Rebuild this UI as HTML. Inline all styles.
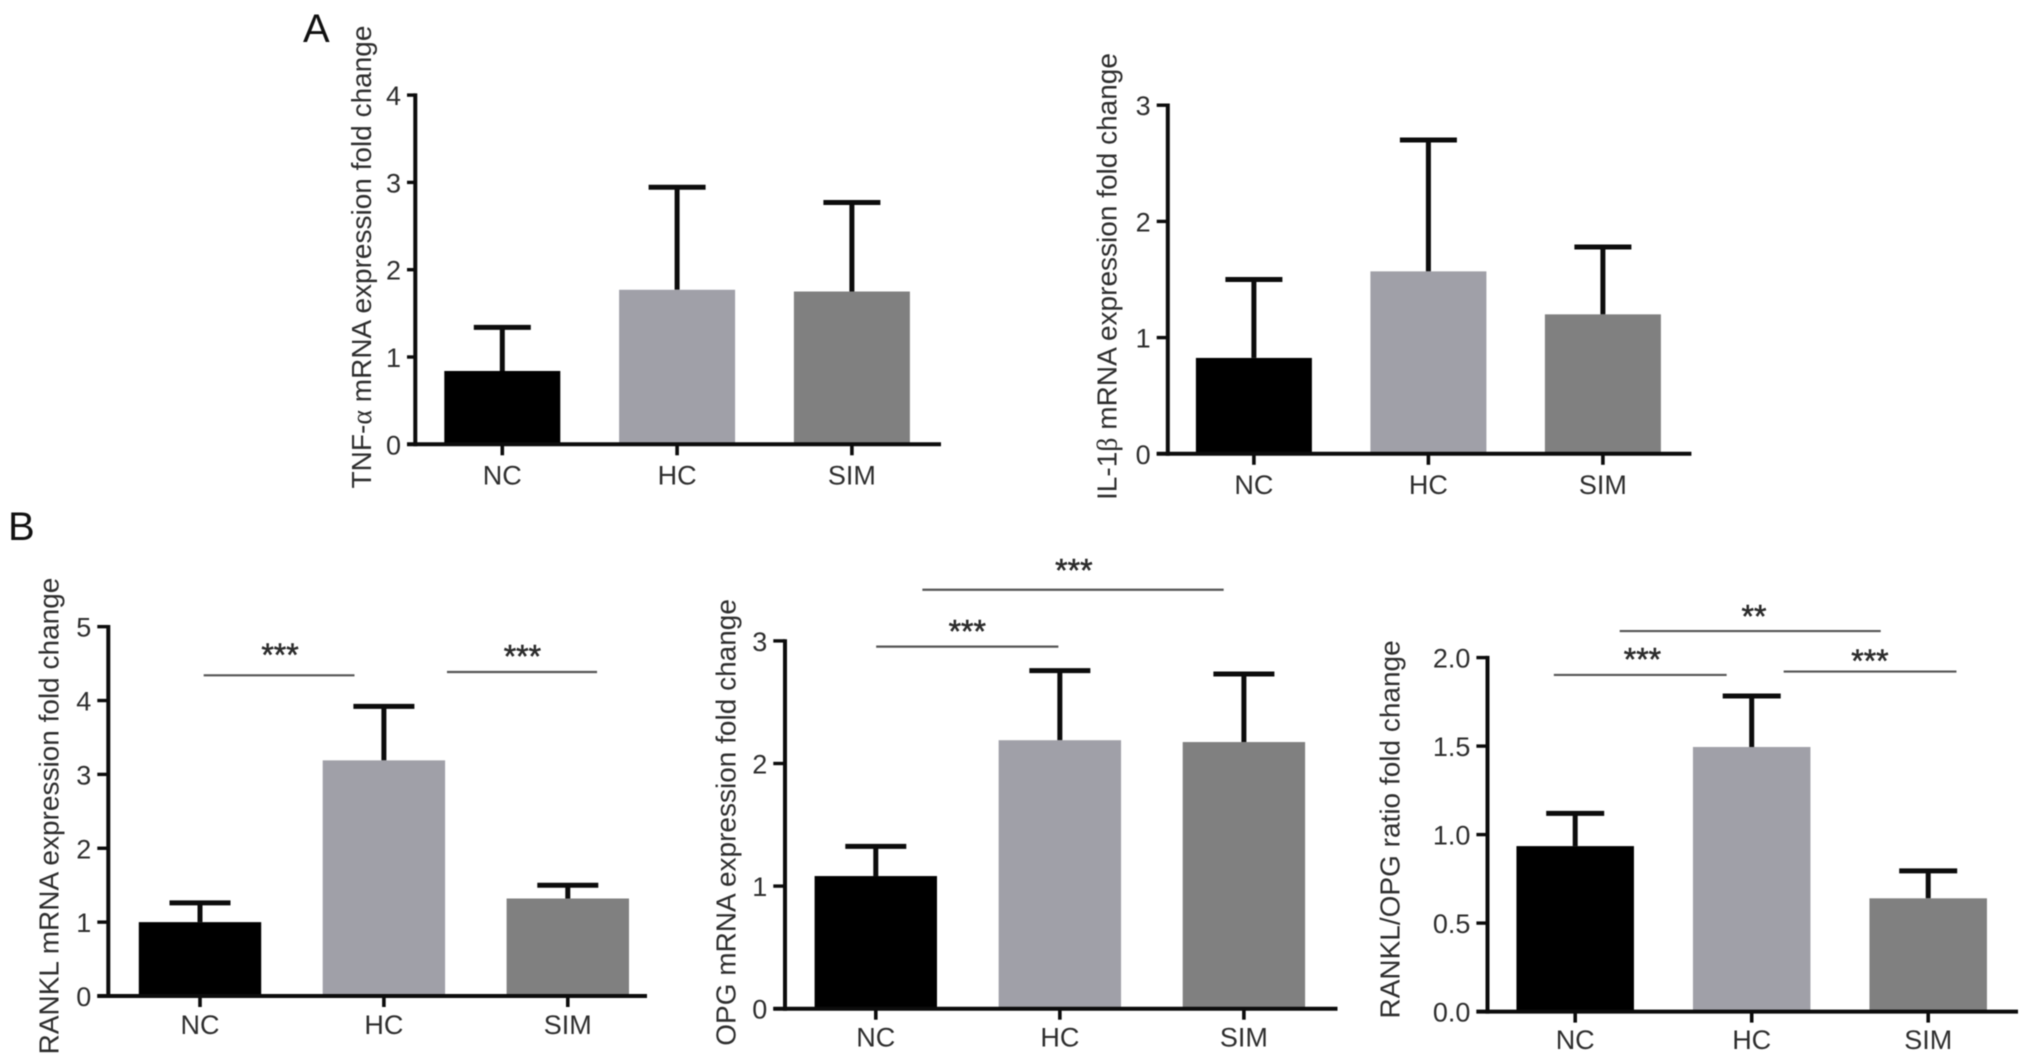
<!DOCTYPE html>
<html lang="en">
<head>
<meta charset="utf-8">
<title>TNF-α, IL-1β, RANKL and OPG expression fold change</title>
<style>
  html, body { margin: 0; padding: 0; background: #fff; width: 2031px; height: 1064px; overflow: hidden; }
  svg { display: block; font-family: "Liberation Sans", sans-serif; filter: blur(0.45px); }
  text { fill: #2e2e2e; }
</style>
</head>
<body>
<svg id="figure" xmlns="http://www.w3.org/2000/svg" width="2031" height="1064" viewBox="0 0 2031 1064">
  <rect x="0" y="0" width="2031" height="1064" fill="#fff"/>
  <text x="303" y="42" font-size="40" style="fill:#111">A</text>
  <text x="8" y="540" font-size="40" style="fill:#111">B</text>
</svg>
<script>
// ---- Data ----
const categories = ['NC', 'HC', 'SIM'];

const tnfValues = [0.84, 1.77, 1.75];
const tnfErrors = [1.34, 2.945, 2.77];
const tnfTicks = [0, 1, 2, 3, 4];

const il1Values = [0.825, 1.57, 1.20];
const il1Errors = [1.50, 2.70, 1.78];
const il1Ticks = [0, 1, 2, 3];

const ranklValues = [1.00, 3.19, 1.32];
const ranklErrors = [1.26, 3.92, 1.50];
const ranklTicks = [0, 1, 2, 3, 4, 5];

const opgValues = [1.082, 2.19, 2.175];
const opgErrors = [1.324, 2.758, 2.73];
const opgTicks = [0, 1, 2, 3];

const ratioValues = [0.935, 1.495, 0.64];
const ratioErrors = [1.12, 1.783, 0.795];
const ratioTicks = ['0.0', '0.5', '1.0', '1.5', '2.0'];

// Significance annotations, in category-index / axis-value units
const ranklSig = [
  { from: 0.02, to: 0.84, level: 4.341, mark: '***', at: 0.435, markLevel: 4.674 },
  { from: 1.343, to: 2.159, level: 4.386, mark: '***', at: 1.753, markLevel: 4.657 }
];
const opgSig = [
  { from: 0.253, to: 1.89, level: 3.417, mark: '***', at: 1.076, markLevel: 3.611 },
  { from: 0.002, to: 0.992, level: 2.953, mark: '***', at: 0.497, markLevel: 3.113 }
];
const ratioSig = [
  { from: 0.252, to: 1.731, level: 2.15, mark: '**', at: 1.013, markLevel: 2.258 },
  { from: -0.121, to: 0.858, level: 1.902, mark: '***', at: 0.381, markLevel: 2.015 },
  { from: 1.181, to: 2.16, level: 1.921, mark: '***', at: 1.67, markLevel: 2.005 }
];

// ---- Panel layouts ----
const barColors = ['#000000', '#a0a0a8', '#808080'];
const inkColor = '#0c0c0c';
const sigColor = '#555';

const panels = [
  { id: 'tnf', values: tnfValues, errors: tnfErrors, ticks: tnfTicks, sig: [],
    axisX: 415.3, base: 444.3, unit: 87.3, c0: 502.3, step: 174.8, barW: 116, capW: 57,
    xLeft: 407, xRight: 941, titleX: 371, titleY: 257, labelDy: 40.4,
    before: 'TNF-', greek: 'α', after: ' mRNA expression fold change' },
  { id: 'il1', values: il1Values, errors: il1Errors, ticks: il1Ticks, sig: [],
    axisX: 1167.8, base: 453.8, unit: 116.2, c0: 1253.9, step: 174.5, barW: 116, capW: 57,
    xLeft: 1156.7, xRight: 1691.4, titleX: 1116.5, titleY: 276.5, labelDy: 40.4,
    before: 'IL-1', greek: 'β', after: ' mRNA expression fold change' },
  { id: 'rankl', values: ranklValues, errors: ranklErrors, ticks: ranklTicks, sig: ranklSig,
    axisX: 108.3, base: 996, unit: 73.87, c0: 200, step: 183.9, barW: 122.4, capW: 61,
    xLeft: 97.3, xRight: 647, titleX: 58.5, titleY: 816, labelDy: 38,
    before: 'RANKL mRNA expression fold change', greek: '', after: '' },
  { id: 'opg', values: opgValues, errors: opgErrors, ticks: opgTicks, sig: opgSig,
    axisX: 785, base: 1008.7, unit: 122.6, c0: 875.8, step: 184.05, barW: 122.4, capW: 61,
    xLeft: 773.3, xRight: 1337.5, titleX: 735.5, titleY: 822.4, labelDy: 38,
    before: 'OPG mRNA expression fold change', greek: '', after: '' },
  { id: 'ratio', values: ratioValues, errors: ratioErrors, ticks: ratioTicks, sig: ratioSig,
    axisX: 1487.5, base: 1011.6, unit: 177, c0: 1575.2, step: 176.5, barW: 117.5, capW: 58,
    xLeft: 1476.4, xRight: 2018, titleX: 1399.5, titleY: 829.4, labelDy: 37.5,
    before: 'RANKL/OPG ratio fold change', greek: '', after: '' }
];

const NS = 'http://www.w3.org/2000/svg';
const root = document.getElementById('figure');

function line(parent, x1, y1, x2, y2, color, width) {
  const el = document.createElementNS(NS, 'line');
  el.setAttribute('x1', x1);
  el.setAttribute('y1', y1);
  el.setAttribute('x2', x2);
  el.setAttribute('y2', y2);
  el.setAttribute('stroke', color);
  el.setAttribute('stroke-width', width);
  parent.appendChild(el);
  return el;
}

function label(parent, x, y, content, size, anchor) {
  const el = document.createElementNS(NS, 'text');
  el.setAttribute('x', x);
  el.setAttribute('y', y);
  el.setAttribute('font-size', size);
  el.setAttribute('text-anchor', anchor);
  el.textContent = content;
  parent.appendChild(el);
  return el;
}

panels.forEach(function (p) {
  const xScale = function (i) { return p.c0 + i * p.step; };
  const yScale = function (v) { return p.base - Number(v) * p.unit; };

  const g = document.createElementNS(NS, 'g');
  
  
  root.appendChild(g);

  // Error bars first, then bars on top
  categories.forEach(function (cat, i) {
    const cx = xScale(i);
    const topErr = yScale(p.errors[i]);
    const stem = line(g, cx, yScale(p.values[i]), cx, topErr, inkColor, 5);
    
    
    const cap = line(g, cx - p.capW / 2, topErr, cx + p.capW / 2, topErr, inkColor, 5);
    
    

    const bar = document.createElementNS(NS, 'rect');
    bar.setAttribute('x', cx - p.barW / 2);
    bar.setAttribute('y', yScale(p.values[i]));
    bar.setAttribute('width', p.barW);
    bar.setAttribute('height', p.base - yScale(p.values[i]));
    bar.setAttribute('fill', barColors[i]);
    
    
    g.appendChild(bar);

    const xTick = line(g, cx, p.base, cx, p.base + 11, inkColor, 3.6);
    
    

    const xLabel = label(g, cx, p.base + p.labelDy, cat, 27, 'middle');
    
    
  });

  // Y axis ticks
  p.ticks.forEach(function (t) {
    const y = yScale(t);
    const yTick = line(g, p.xLeft, y, p.axisX, y, inkColor, 3.4);
    
    
    const yLabel = label(g, p.xLeft - 6, y + 10, String(t), 27, 'end');
    
    
  });

  // Axis lines
  const topTick = yScale(p.ticks[p.ticks.length - 1]);
  const yAxis = line(g, p.axisX, topTick - 1.7, p.axisX, p.base + 2, inkColor, 4);
  
  
  const xAxis = line(g, p.xLeft, p.base, p.xRight, p.base, inkColor, 4);
  
  

  // Y axis title
  const title = document.createElementNS(NS, 'text');
  title.setAttribute('font-size', '28');
  title.setAttribute('text-anchor', 'middle');
  title.setAttribute('transform', 'translate(' + p.titleX + ',' + p.titleY + ') rotate(-90)');
  
  
  title.appendChild(document.createTextNode(p.before));
  if (p.greek) {
    const gk = document.createElementNS(NS, 'tspan');
    gk.setAttribute('font-family', '"Liberation Serif", serif');
    gk.textContent = p.greek;
    title.appendChild(gk);
  }
  if (p.after) title.appendChild(document.createTextNode(p.after));
  g.appendChild(title);

  // Significance lines and markers
  p.sig.forEach(function (s, k) {
    const sy = yScale(s.level);
    const sigLine = line(g, xScale(s.from), sy, xScale(s.to), sy, sigColor, 2.2);
    
    
    const star = label(g, xScale(s.at), yScale(s.markLevel) + 15.4, s.mark, 32, 'middle');
    star.setAttribute('stroke', '#222');
    star.setAttribute('stroke-width', '0.5');
    
    
  });
});
</script>
</body>
</html>
